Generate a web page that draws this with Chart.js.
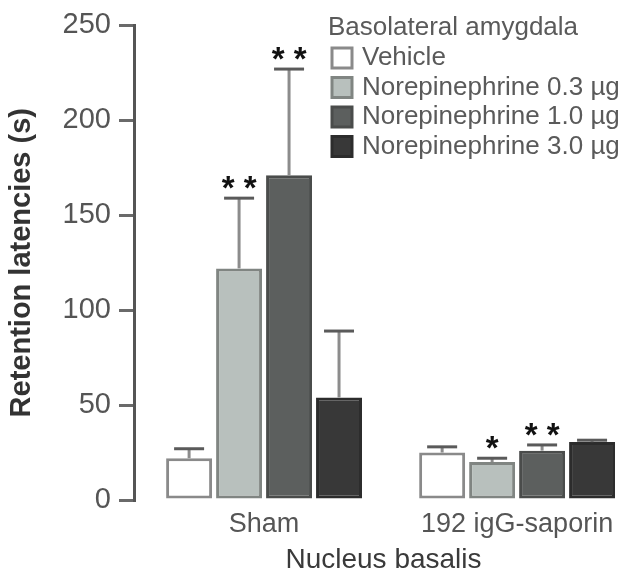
<!DOCTYPE html>
<html>
<head>
<meta charset="utf-8">
<script src="https://cdn.jsdelivr.net/npm/chart.js@4/dist/chart.umd.min.js"></script>
<style>
html,body{margin:0;padding:0;background:#fff;}
#wrap{width:633px;height:585px;}
</style>
</head>
<body>
<div id="wrap"><canvas id="c" width="633" height="585"></canvas></div>
<script>
const categories = ['Sham', '192 igG-saporin'];
const seriesLabels = ['Vehicle', 'Norepinephrine 0.3 µg', 'Norepinephrine 1.0 µg', 'Norepinephrine 3.0 µg'];
const vehicle = [22, 25];
const ne03 = [122, 20];
const ne10 = [171, 26];
const ne30 = [54, 30.5];
const vehicleErr = [5, 3];
const ne03Err = [37, 2];
const ne10Err = [56, 3];
const ne30Err = [35, 1];
const vehicleSig = ['', ''];
const ne03Sig = ['**', '*'];
const ne10Sig = ['**', '**'];
const ne30Sig = ['', ''];
const yTicks = [0, 50, 100, 150, 200, 250];

const fills = ['#ffffff', '#b8c0bd', '#5c5f5e', '#383838'];
const borders = ['#8a8a8a', '#808582', '#4a4c4b', '#2c2c2c'];
const values = [vehicle, ne03, ne10, ne30];
const errs = [vehicleErr, ne03Err, ne10Err, ne30Err];
const sigs = [vehicleSig, ne03Sig, ne10Sig, ne30Sig];

const FONT = "'Liberation Sans', Arial, sans-serif";

const errorPlugin = {
  id: 'errbars',
  afterDatasetsDraw(chart) {
    const ctx = chart.ctx;
    const y = chart.scales.y;
    chart.data.datasets.forEach((ds, i) => {
      const meta = chart.getDatasetMeta(i);
      meta.data.forEach((bar, j) => {
        const v = ds.data[j];
        const e = ds.errs[j];
        const top = y.getPixelForValue(v + e);
        const base = y.getPixelForValue(v);
        ctx.save();
        ctx.strokeStyle = '#8c8c8c';
        ctx.lineWidth = 3;
        ctx.beginPath();
        ctx.moveTo(bar.x, base);
        ctx.lineTo(bar.x, top);
        ctx.stroke();
        ctx.strokeStyle = '#5a5a5a';
        ctx.lineWidth = 3;
        ctx.beginPath();
        ctx.moveTo(bar.x - 15, top);
        ctx.lineTo(bar.x + 15, top);
        ctx.stroke();
        const s = ds.sig[j];
        if (s) {
          ctx.fillStyle = '#111';
          ctx.font = 'bold 33px ' + FONT;
          ctx.textAlign = 'center';
          ctx.textBaseline = 'middle';
          ctx.fillText(s.split('').join(' '), bar.x, top - 8);
        }
        ctx.restore();
      });
    });
  }
};

const legendPlugin = {
  id: 'customLegend',
  afterDraw(chart) {
    const ctx = chart.ctx;
    ctx.save();
    ctx.textAlign = 'left';
    ctx.textBaseline = 'middle';
    ctx.fillStyle = '#5a5a5a';
    ctx.font = '26px ' + FONT;
    ctx.fillText('Basolateral amygdala', 328, 28);
    chart.data.datasets.forEach((ds, i) => {
      const cy = 58 + i * 29.5;
      ctx.fillStyle = ds.backgroundColor;
      ctx.fillRect(332, cy - 10, 20, 20);
      ctx.strokeStyle = ds.borderColor;
      ctx.lineWidth = 3;
      ctx.strokeRect(332, cy - 10, 20, 20);
      ctx.fillStyle = '#5a5a5a';
      ctx.font = '26px ' + FONT;
      ctx.fillText(ds.label, 362, cy);
    });
    ctx.restore();
  }
};

new Chart(document.getElementById('c'), {
  type: 'bar',
  data: {
    labels: categories,
    datasets: seriesLabels.map((lab, i) => ({
      label: lab,
      data: values[i],
      errs: errs[i],
      sig: sigs[i],
      backgroundColor: fills[i],
      borderColor: borders[i],
      borderWidth: 3,
      borderSkipped: false,
      categoryPercentage: 0.79,
      barPercentage: 0.92
    }))
  },
  options: {
    responsive: false,
    animation: false,
    devicePixelRatio: 1,
    layout: { padding: { left: 0, right: 0, top: 24, bottom: 0 } },
    plugins: { legend: { display: false }, tooltip: { enabled: false } },
    scales: {
      x: {
        grid: { display: false, drawTicks: false },
        border: { display: false },
        ticks: { color: '#555', font: { family: FONT, size: 27 }, padding: 8 },
        title: { display: true, text: 'Nucleus basalis', color: '#3a3a3a', font: { family: FONT, size: 28 }, padding: { top: 0, bottom: 8 } },
        afterBuildTicks(scale) { scale._startValue = -0.514; scale._valueRange = 1.972; },
        afterFit(scale) { scale.height = 85; }
      },
      y: {
        min: 0, max: 250,
        afterBuildTicks(scale) { scale.ticks = yTicks.map(v => ({ value: v })); },
        grid: { drawOnChartArea: false, drawTicks: true, tickLength: 15, color: '#6a6a6a', lineWidth: 3 },
        border: { display: true, color: '#555', width: 3 },
        ticks: { color: '#555', font: { family: FONT, size: 29 }, padding: 8 },
        title: { display: true, text: 'Retention latencies (s)', color: '#333', font: { family: FONT, size: 29, weight: 'bold' }, padding: { top: 5, bottom: 0 } },
        afterFit(scale) { scale.width = 134; }
      }
    }
  },
  plugins: [errorPlugin, legendPlugin]
});
</script>
</body>
</html>
